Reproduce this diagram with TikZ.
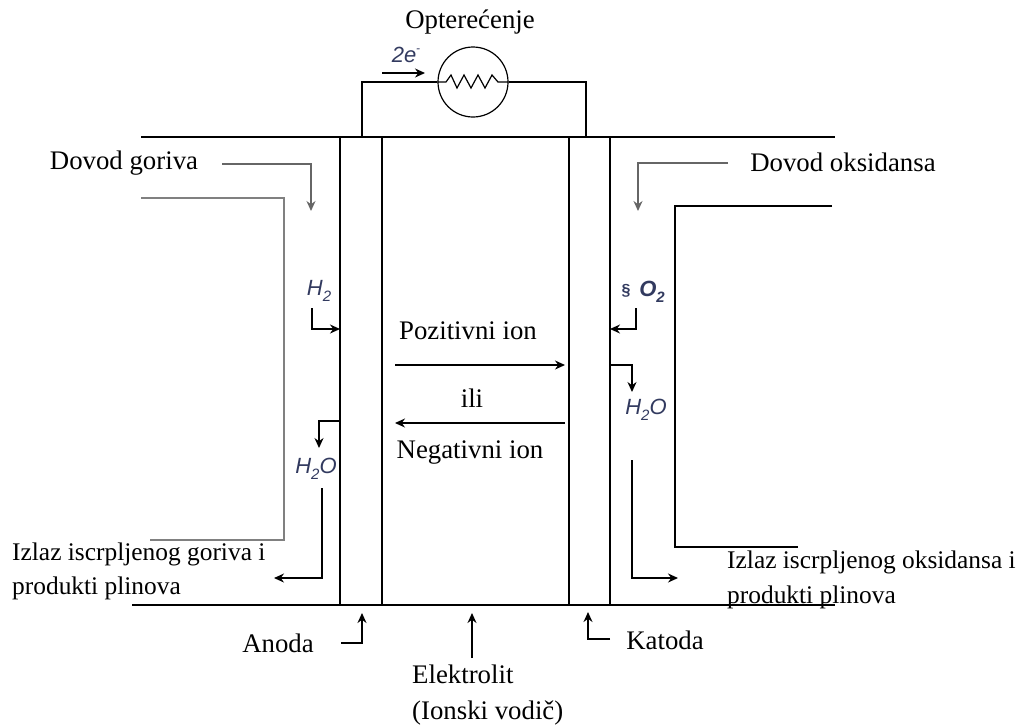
\documentclass[tikz,border=0pt]{standalone}
\usepackage{fontspec}
\setmainfont{Liberation Serif}
\newfontfamily\formfont{Liberation Sans}
\usepackage{tikz}
\usetikzlibrary{arrows.meta}
\definecolor{formcol}{RGB}{50,58,95}
\newcommand{\lowidx}[1]{\raisebox{-0.25em}{\fontsize{15}{15}\selectfont #1}}

\begin{document}
\begin{tikzpicture}[
        x=1pt,y=-1pt,
        label/.style={font=\fontsize{26.8}{33}\selectfont,inner sep=0pt,align=left},
        exitlabel/.style={font=\fontsize{25.4}{33}\selectfont,inner sep=0pt,align=left,anchor=west},
        formula/.style={font=\fontsize{22}{24}\formfont\itshape\selectfont,text=formcol,inner sep=0pt},
        wall/.style={line width=1.5pt},
        pipe/.style={line width=2pt,black!50},
        flow/.style={line width=1.4pt,-{Stealth[length=10pt,width=9pt]}},
        feed/.style={flow,black!60}
    ]
    \useasboundingbox (0,0) rectangle (1019,724);

    % plates
    \coordinate (topleft) at (141,137);
    \coordinate (topright) at (835,137);
    \coordinate (botleft) at (132,605);
    \coordinate (botright) at (835,605);
    \draw[wall] (topleft) -- (topright);
    \draw[wall] (botleft) -- (botright);
    \draw[wall] (340,137) -- (340,605);
    \draw[wall] (382,137) -- (382,605);
    \draw[wall] (569,137) -- (569,605);
    \draw[wall] (610,137) -- (610,605);

    % load
    \node[circle,draw,line width=1.2pt,minimum size=70pt,inner sep=0pt] (load) at (473,82) {};
    \node[label] (opt) at (470,22) {Optere\'{c}enje};
    \coordinate (wireleft) at (362,137);
    \coordinate (wireright) at (586,137);
    \draw[wall] (wireleft) |- (load.west);
    \draw[wall] (wireright) |- (load.east);
    \draw[line width=1.2pt] (load.west) -- (446,82) -- (451,75) -- (457,88) -- (464,75) -- (471,88) -- (478,75) -- (485,88) -- (492,75) -- (498,82) -- (load.east);
    \node[formula] (twoe) at (406,55) {2e\raisebox{0.45em}{\fontsize{12}{12}\selectfont -}};
    \draw[flow] (382,73) -- (425,73);

    % walls
    \draw[pipe] (141,198) -- (284,198) -- (284,540) -- (150,540);
    \draw[wall] (832,206) -- (675,206) -- (675,547) -- (798,547);

    % labels
    \node[label] (fuel) at (124,163) {Dovod goriva};
    \node[label] (oxid) at (843,162) {Dovod oksidansa};
    \node[label] (pos) at (468,331) {Pozitivni ion};
    \node[label] (ili) at (472,398) {ili};
    \node[label] (neg) at (470,453) {Negativni ion};
    \node[label] (anoda) at (278,643) {Anoda};
    \node[label] (katoda) at (665,640) {Katoda};
    \node[label,anchor=west] (elektrolit) at (412,695) {Elektrolit\\[3pt](Ionski vodi\v{c})};
    \node[exitlabel] (exleft) at (12,571) {Izlaz iscrpljenog goriva i\\[1pt]produkti plinova};
    \node[exitlabel] (exright) at (727,580) {Izlaz iscrpljenog oksidansa i\\[2pt]produkti plinova};

    \node[formula] (h2) at (319,291) {H\lowidx{2}};
    \node[formula,font=\fontsize{22}{24}\formfont\bfseries\itshape\selectfont] (o2) at (652,292) {O\lowidx{2}};
    \node[formula,font=\fontsize{16}{16}\formfont\bfseries\selectfont] (smudge) at (626,291) {\S};
    \node[formula] (h2oleft) at (316,469) {H\lowidx{2}O};
    \node[formula] (h2oright) at (646,410) {H\lowidx{2}O};

    % flows
    \draw[feed] (222,164) -- (311,164) -- (311,211);
    \draw[feed] (728,163) -- (638,163) -- (638,211);
    \draw[flow] (312,308) -- (312,329) -- (340,329);
    \draw[flow] (636,308) -- (636,329) -- (610,329);
    \draw[flow] (610,365) -- (632,365) -- (632,392);
    \draw[flow] (340,421) -- (319,421) -- (319,448);
    \draw[flow] (322,488) -- (322,578) -- (274,578);
    \draw[flow] (632,460) -- (632,578) -- (678,578);
    \draw[flow] (395,365) -- (565,365);
    \draw[flow] (565,423) -- (395,423);
    \draw[flow] (341,643) -- (362,643) -- (362,613);
    \draw[flow] (472,658) -- (472,613);
    \draw[flow] (610,639) -- (588,639) -- (588,612);

\end{tikzpicture}
\end{document}
